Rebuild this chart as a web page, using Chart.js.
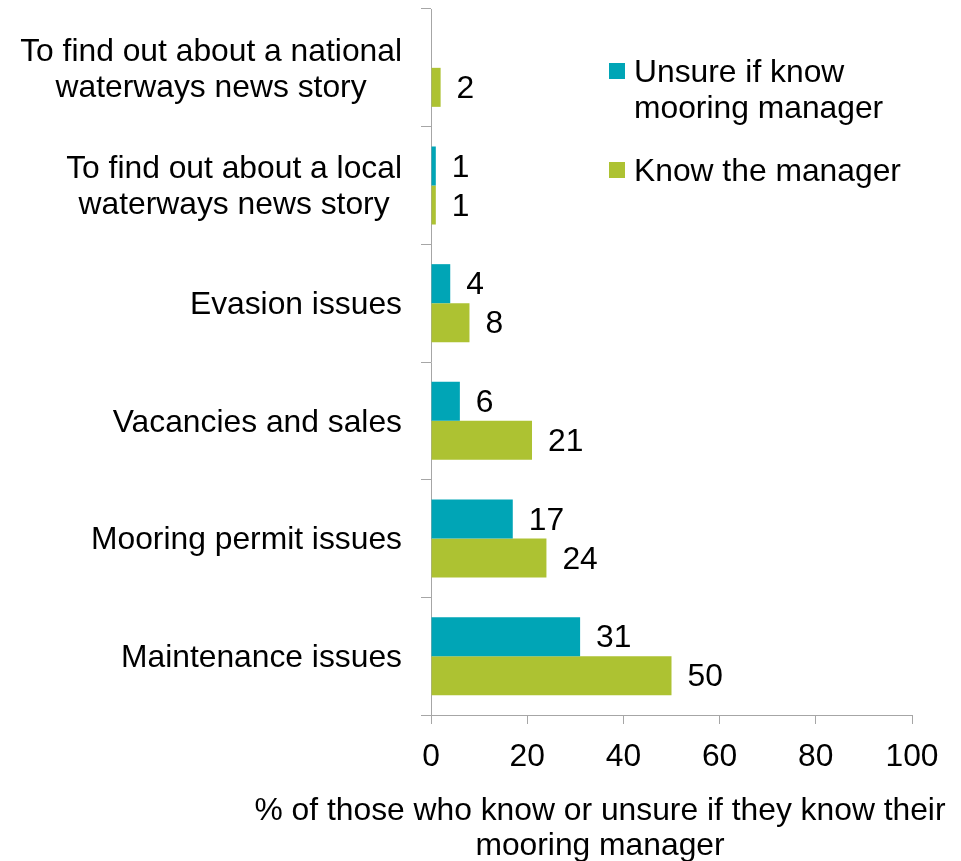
<!DOCTYPE html>
<html>
<head>
<meta charset="utf-8">
<title>Reasons for contacting the mooring manager</title>
<script src="https://cdn.jsdelivr.net/npm/chart.js@4/dist/chart.umd.min.js"></script>
<style>
	html, body { margin: 0; padding: 0; background: #fff; }
	canvas { display: block; }
</style>
</head>
<body>
<canvas id="chart" width="961" height="861"></canvas>
<script>
const categories = [
	["To find out about a national", "waterways news story"],
	["To find out about a local", "waterways news story"],
	["Evasion issues"],
	["Vacancies and sales"],
	["Mooring permit issues"],
	["Maintenance issues"],
];
const unsureValues = [null, 1, 4, 6, 17, 31];
const knowValues = [2, 1, 8, 21, 24, 50];
const seriesNames = [
	["Unsure if know", "mooring manager"],
	["Know the manager"],
];
const xTicks = [0, 20, 40, 60, 80, 100];
const axisTitle = ["% of those who know or unsure if they know their", "mooring manager"];

const FONT = "'Liberation Sans', Arial, sans-serif";
const FONT_SIZE = 31.8;
const TEAL = "#00a5b6";
const GREEN = "#adc232";
const AXIS_GREY = "#a6a6a6";

// category names, right-aligned as a block with the lines centred inside it
const categoryLabels = {
	id: "categoryLabels",
	afterDraw(chart) {
		const { ctx, scales: { y } } = chart;
		ctx.save();
		ctx.font = `${FONT_SIZE}px ${FONT}`;
		ctx.fillStyle = "#000";
		ctx.textAlign = "center";
		ctx.textBaseline = "middle";
		categories.forEach((lines, i) => {
			const mid = y.getPixelForValue(i) + 2;
			const blockW = Math.max(...lines.map((l) => ctx.measureText(l).width));
			const cx = y.right - 29 - blockW / 2;
			const lh = 36;
			lines.forEach((line, j) => {
				ctx.fillText(line, cx, mid + (j - (lines.length - 1) / 2) * lh);
			});
		});
		ctx.restore();
	},
};

// numbers at the end of each bar
const valueLabels = {
	id: "valueLabels",
	afterDatasetsDraw(chart) {
		const { ctx } = chart;
		ctx.save();
		ctx.font = `${FONT_SIZE}px ${FONT}`;
		ctx.fillStyle = "#000";
		ctx.textAlign = "left";
		ctx.textBaseline = "middle";
		chart.data.datasets.forEach((ds, di) => {
			chart.getDatasetMeta(di).data.forEach((bar, i) => {
				const v = ds.data[i];
				if (v === null || v === undefined) return;
				ctx.fillText(String(v), bar.x + 16, bar.y + 2);
			});
		});
		ctx.restore();
	},
};

const sideLegend = {
	id: "sideLegend",
	afterDraw(chart) {
		const { ctx } = chart;
		const colors = [TEAL, GREEN];
		const rows = [71, 170];
		ctx.save();
		ctx.font = `${FONT_SIZE}px ${FONT}`;
		ctx.textAlign = "left";
		ctx.textBaseline = "middle";
		seriesNames.forEach((lines, i) => {
			ctx.fillStyle = colors[i];
			ctx.fillRect(609, rows[i] - 8, 16, 16);
			ctx.fillStyle = "#000";
			lines.forEach((line, j) => ctx.fillText(line, 634, rows[i] + 2 + j * 36));
		});
		ctx.restore();
	},
};

const xTitle = {
	id: "xTitle",
	afterDraw(chart) {
		const { ctx } = chart;
		ctx.save();
		ctx.font = `${FONT_SIZE}px ${FONT}`;
		ctx.fillStyle = "#000";
		ctx.textAlign = "center";
		ctx.textBaseline = "middle";
		axisTitle.forEach((line, j) => ctx.fillText(line, 600, 811 + j * 35));
		ctx.restore();
	},
};

new Chart(document.getElementById("chart"), {
	type: "bar",
	data: {
		labels: categories,
		datasets: [
			{
				label: seriesNames[0].join(" "),
				data: unsureValues,
				backgroundColor: TEAL,
			},
			{
				label: seriesNames[1].join(" "),
				data: knowValues,
				backgroundColor: GREEN,
			},
		],
	},
	options: {
		indexAxis: "y",
		responsive: false,
		animation: false,
		categoryPercentage: 0.663,
		barPercentage: 1,
		layout: {
			padding: { top: 9, right: 49, left: 0, bottom: 0 },
		},
		plugins: {
			legend: { display: false },
			tooltip: { enabled: false },
		},
		scales: {
			x: {
				min: 0,
				max: 100,
				afterBuildTicks: (scale) => {
					scale.ticks = xTicks.map((v) => ({ value: v }));
				},
				afterFit: (scale) => {
					scale.height = 146;
				},
				grid: {
					drawOnChartArea: false,
					drawTicks: true,
					tickLength: 9,
					color: AXIS_GREY,
				},
				border: { color: AXIS_GREY, width: 1 },
				ticks: {
					color: "#000",
					padding: 14,
					maxRotation: 0,
					font: { family: FONT, size: FONT_SIZE },
				},
			},
			y: {
				afterFit: (scale) => {
					scale.width = 431;
				},
				grid: {
					offset: true,
					drawOnChartArea: false,
					drawTicks: true,
					tickLength: 10,
					color: AXIS_GREY,
				},
				border: { color: AXIS_GREY, width: 1 },
				ticks: { display: false },
			},
		},
	},
	plugins: [categoryLabels, valueLabels, sideLegend, xTitle],
});
</script>
</body>
</html>
